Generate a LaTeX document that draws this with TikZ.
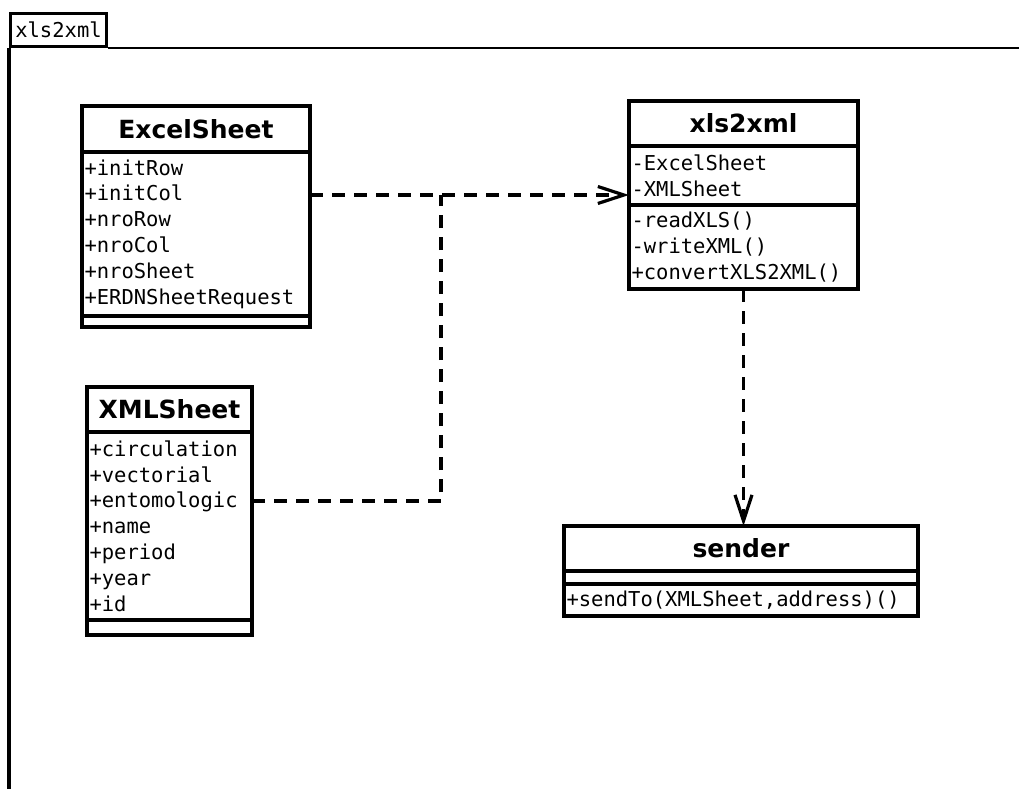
\documentclass[tikz,border=0pt]{standalone}
\usepackage{fontspec}
\setsansfont{DejaVu Sans}
\setmonofont{DejaVu Sans Mono}
\usetikzlibrary{arrows.meta}

\begin{document}
\begin{tikzpicture}[x=1pt,y=-1pt]

        \useasboundingbox (0,0) rectangle (1019,789);

        \tikzset{
          classname/.style={draw, line width=3.2pt, anchor=north west, inner sep=0pt, outer sep=0pt,
            font=\sffamily\bfseries\fontsize{25}{30}\selectfont},
          members/.style={draw, line width=3.2pt, anchor=north west, inner xsep=2.5pt, inner ysep=0pt,
            outer sep=0pt, align=left, font=\ttfamily\fontsize{20.5}{25.8}\selectfont},
          depends/.style={line width=3.2pt, dash pattern=on 13pt off 9pt},
          openv/.style={-{Straight Barb[length=26pt,width=17pt]}}
        }

        % frame
        \node[draw, line width=3pt, anchor=north west, minimum width=96pt, minimum height=33pt, inner sep=0pt,
          font=\ttfamily\fontsize{20.5}{25.8}\selectfont] (frame) at (9,12) {xls2xml};
        \draw[line width=3.6pt] (frame.south west) -- (frame.south west |- 0,789);
        \draw[line width=2.2pt] (frame.south east) -- (frame.south east -| 1019,0);

        % ExcelSheet
        \node[classname, minimum width=228pt, minimum height=46pt] (excel) at (82,106) {ExcelSheet};
        \node[members, text width=223pt, minimum height=164pt] (excelattr) at (excel.south west)
          {+initRow\\+initCol\\+nroRow\\+nroCol\\+nroSheet\\+ERDNSheetRequest};
        \node[members, text width=223pt, minimum height=11pt] (excelops) at (excelattr.south west) {};

        % xls2xml
        \node[classname, minimum width=229pt, minimum height=45pt] (xls) at (629,101) {xls2xml};
        \node[members, text width=224pt, minimum height=59pt] (xlsattr) at (xls.south west)
          {-ExcelSheet\\-XMLSheet};
        \node[members, text width=224pt, minimum height=84pt] (xlsops) at (xlsattr.south west)
          {-readXLS()\\-writeXML()\\+convertXLS2XML()};

        % XMLSheet
        \node[classname, minimum width=165pt, minimum height=45pt] (xml) at (87,387) {XMLSheet};
        \node[members, text width=160pt, minimum height=188pt] (xmlattr) at (xml.south west)
          {+circulation\\+vectorial\\+entomologic\\+name\\+period\\+year\\+id};
        \node[members, text width=160pt, minimum height=15pt] (xmlops) at (xmlattr.south west) {};

        % sender
        \node[classname, minimum width=354pt, minimum height=45pt] (sender) at (564,526) {sender};
        \node[members, text width=349pt, minimum height=13pt] (senderattr) at (sender.south west) {};
        \node[members, text width=349pt, minimum height=32pt] (senderops) at (senderattr.south west)
          {+sendTo(XMLSheet,address)()};

        % dependencies
        \coordinate (join) at (441,195);
        \coordinate (bend) at (441,501);
        \draw[depends, openv] (excelattr.east |- join) -- (xlsattr.west |- join);
        \draw[depends] (xmlattr.east |- bend) -- (bend) -- (join);
        \draw[depends, openv] (xlsops.south) -- (xlsops.south |- sender.north);

\end{tikzpicture}
\end{document}
